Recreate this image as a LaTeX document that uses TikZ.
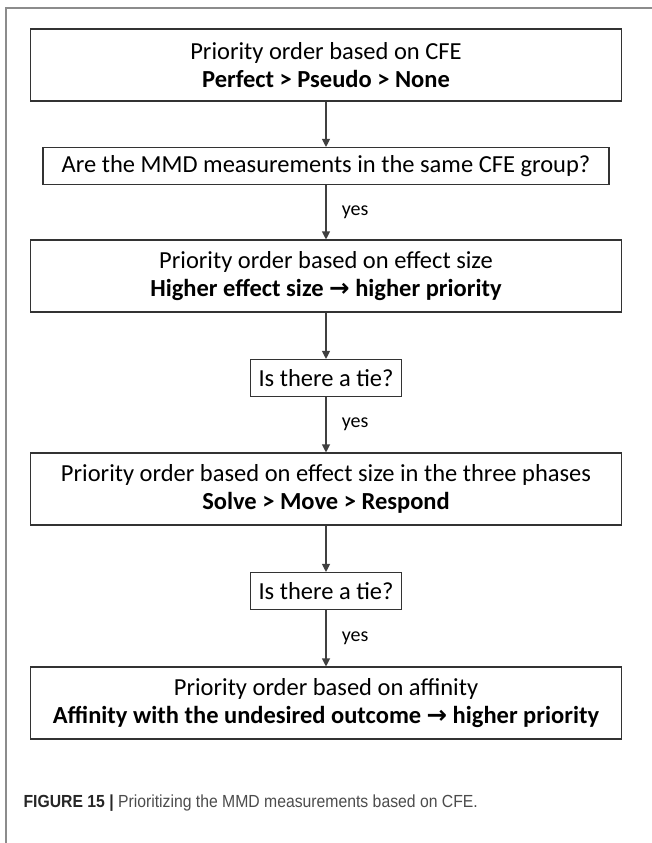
\documentclass[tikz,border=0pt]{standalone}
\usepackage{fontspec}
\setmainfont{Carlito}
\newfontfamily\arrfont{DejaVu Sans}
\newfontfamily\capfont[FakeStretch=0.9]{Liberation Sans}
\usetikzlibrary{arrows.meta}
\tikzset{>={Triangle[width=8pt,length=8pt]}}

\newcommand\arr{{\arrfont\bfseries\char"2192}}

\begin{document}
\begin{tikzpicture}[x=1pt,y=1pt,
  box/.style={draw=black!80,line width=1.1pt,align=center,inner sep=0pt,
    font=\fontsize{24.5}{28}\selectfont},
  wide/.style={box,minimum width=591pt,minimum height=72pt},
  ask/.style={box,minimum height=37pt,inner xsep=8pt},
  link/.style={->,draw=black!75,line width=1.1pt},
  yes/.style={anchor=west,xshift=12pt,font=\fontsize{20}{22}\selectfont}]

  \newcommand\MidX{326}
  \useasboundingbox (0,0) rectangle (652,-843);

  % page frame
  \draw[black!45,line width=1.3pt](6,-843)--(6,-8)--(652,-8);

  \node[wide](cfe) at (\MidX,-65)
    {Priority order based on CFE\\\textbf{Perfect > Pseudo > None}};
  \node[ask,minimum width=566pt](same) at (\MidX,-166)
    {Are the MMD measurements in the same CFE group?};
  \node[wide](size) at (\MidX,-276)
    {Priority order based on effect size\\\textbf{Higher effect size \arr{} higher priority}};
  \node[ask](tieA) at (\MidX,-378) {Is there a tie?};
  \node[wide](phase) at (\MidX,-489)
    {Priority order based on effect size in the three phases\\\textbf{Solve > Move > Respond}};
  \node[ask](tieB) at (\MidX,-591) {Is there a tie?};
  \node[wide](aff) at (\MidX,-703)
    {Priority order based on affinity\\\textbf{Affinity with the undesired outcome \arr{} higher priority}};

  \draw[link](cfe)--(same);
  \draw[link](same)--node[yes]{yes}(size);
  \draw[link](size)--(tieA);
  \draw[link](tieA)--node[yes]{yes}(phase);
  \draw[link](phase)--(tieB);
  \draw[link](tieB)--node[yes]{yes}(aff);

  \node[anchor=west,font=\capfont\fontsize{17.5}{20}\selectfont](cap) at (20,-803)
    {\textcolor{black!85}{\textbf{FIGURE 15 |}} \textcolor{black!70}{Prioritizing the MMD measurements based on CFE.}};
\end{tikzpicture}
\end{document}
